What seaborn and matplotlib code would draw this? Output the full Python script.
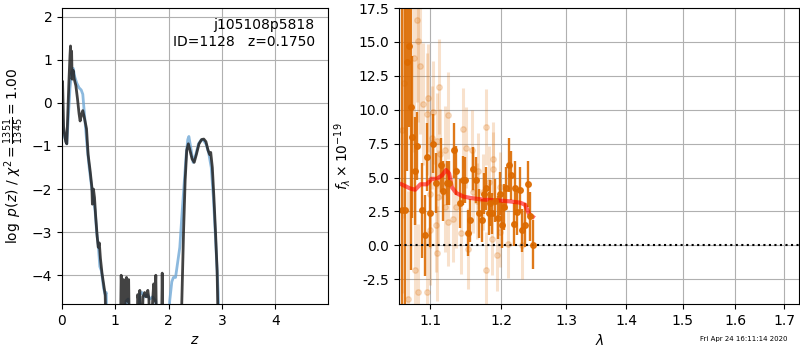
import numpy as np
import pandas as pd
import matplotlib
matplotlib.use('Agg')
import matplotlib.pyplot as plt
import matplotlib.ticker as mticker
import seaborn as sns

# ---------------- p(z) : deux courbes (bleue lissée, noire brute)
z_blue = [0.0, 0.02, 0.05, 0.09, 0.12, 0.15, 0.18, 0.21, 0.24, 0.28, 0.32, 0.36, 0.39, 0.43,
          0.47, 0.51, 0.55, 0.58, 0.62, 0.65, 0.68, 0.71, 0.74, 0.78, 0.81, 0.83, 0.85,
          1.15, 1.2, 1.24, 1.3, 1.42, 1.46, 1.5, 1.55, 1.6, 1.65, 1.7, 1.76, 1.8,
          1.98, 2.02, 2.06, 2.09, 2.13, 2.17, 2.21, 2.25, 2.29, 2.33, 2.36, 2.38, 2.41,
          2.46, 2.51, 2.56, 2.61, 2.65, 2.7, 2.75, 2.8, 2.84, 2.87, 2.9, 2.93, 2.96]
lp_blue = [-0.1, -0.55, -0.8, -0.95, -0.3, 0.35, 0.7, 0.8, 0.6, 0.45, 0.35, 0.3, 0.2, -0.4,
           -1.0, -1.5, -1.9, -2.15, -2.5, -3.0, -3.3, -3.8, -3.9, -4.3, -4.45, -4.4, -6,
           -6, -4.6, -4.55, -6, -6, -4.45, -4.4, -4.5, -4.45, -4.55, -4.5, -4.6, -6,
           -6, -4.6, -4.15, -4.05, -4.05, -3.7, -3.35, -2.6, -1.9, -1.2, -0.85, -0.78, -1.0,
           -1.38, -1.2, -0.95, -0.86, -0.86, -0.95, -1.15, -1.5, -2.2, -2.9, -3.65, -4.4, -6]

z_dark = [0.0, 0.01, 0.02, 0.03, 0.05, 0.07, 0.09, 0.11, 0.13, 0.15, 0.16, 0.17, 0.18, 0.19,
          0.21, 0.23, 0.26, 0.29, 0.32, 0.34, 0.37, 0.39, 0.42, 0.46, 0.49, 0.53, 0.56, 0.57,
          0.59, 0.61, 0.63, 0.66, 0.68, 0.7, 0.72, 0.75, 0.78, 0.81, 0.84,
          1.09, 1.11, 1.13, 1.15, 1.17, 1.19, 1.21, 1.23, 1.25, 1.27, 1.40, 1.42, 1.44, 1.46,
          1.48, 1.52, 1.55, 1.58, 1.61, 1.63, 1.66, 1.70, 1.72, 1.74, 1.76, 1.78, 1.86, 1.88, 1.90,
          2.22, 2.25, 2.28, 2.31, 2.34, 2.37, 2.4, 2.44, 2.48, 2.52, 2.57, 2.62, 2.66, 2.7,
          2.74, 2.77, 2.79, 2.82, 2.85, 2.88, 2.91, 2.94]
lp_dark = [0.2, 0.5, 0.0, -0.55, -0.75, -0.9, -0.95, -0.2, 0.5, 1.1, 1.32, 0.9, 1.2, 0.55,
           0.75, 0.55, 0.4, 0.1, -0.25, -0.42, -0.25, -0.18, -0.35, -0.6, -1.2, -1.6, -1.95, -2.35,
           -2.0, -2.2, -2.6, -3.1, -3.35, -3.25, -3.6, -3.95, -4.2, -4.45, -6,
           -6, -4.0, -4.6, -4.1, -6, -4.15, -4.05, -4.6, -4.1, -6, -6, -4.45, -4.6, -4.35,
           -6, -4.5, -4.4, -4.5, -4.35, -4.55, -6, -4.6, -4.2, -4.6, -4.0, -6, -6, -3.95, -6,
           -6, -4.5, -3.0, -1.8, -1.1, -0.95, -1.1, -1.3, -1.38, -1.2, -0.95, -0.85, -0.84, -0.9,
           -1.1, -1.2, -1.15, -1.5, -2.2, -3.0, -3.9, -6]

# ---------------- spectre : points foncés, points clairs, modèle
lam_dark = [1.062, 1.067, 1.069, 1.072, 1.0746, 1.0755, 1.0799, 1.0829, 1.0888, 1.0932, 1.0955,
            1.100, 1.1045, 1.1081, 1.1146, 1.1181, 1.1237, 1.126, 1.133, 1.1353, 1.1413, 1.145,
            1.1484, 1.153, 1.1555, 1.1593, 1.164, 1.1684, 1.1722, 1.1755, 1.1785, 1.1818, 1.1842,
            1.1876, 1.1916, 1.195, 1.1989, 1.2012, 1.2038, 1.2073, 1.2112, 1.2148, 1.2187, 1.2213,
            1.2238, 1.2277, 1.2314, 1.2353, 1.2399, 1.2429, 1.2475]
flux_dark = [2.6, 2.6, 13.5, 14.7, 10.2, 8.0, 5.5, 7.35, 2.6, 0.73, 6.5,
             2.35, 7.5, 4.6, 5.9, 4.0, 4.6, 4.6, 7.0, 5.5, 3.1, 4.8,
             4.8, 0.9, 1.85, 5.65, 4.8, 2.35, 1.85, 3.8, 4.2, 2.35, 3.1,
             2.35, 3.3, 2.05, 3.8, 1.5, 2.8, 4.2, 5.9, 5.15, 1.55, 4.2,
             2.45, 4.1, 1.1, 1.5, 4.5, 2.15, 0.05]
err_dark = [15, 15, 8, 6, 12, 6, 4, 2.5, 3.5, 3.0, 2.5,
            2.5, 2.2, 2.2, 2.0, 2.2, 1.6, 1.6, 2.0, 1.8, 1.8, 1.8,
            1.7, 1.7, 1.6, 1.6, 1.7, 1.8, 1.6, 1.5, 1.6, 1.6, 1.7,
            1.5, 1.6, 1.6, 1.6, 1.7, 1.7, 1.6, 2.0, 1.8, 1.6, 2.0,
            1.7, 1.7, 1.6, 1.6, 1.7, 1.8, 1.8]

lam_light = [1.062, 1.065, 1.071, 1.078, 1.080, 1.082, 1.0843, 1.0843, 1.0866, 1.091, 1.0955,
             1.0955, 1.097, 1.100, 1.100, 1.1023, 1.1045, 1.108, 1.109, 1.109, 1.111, 1.1127,
             1.1136, 1.120, 1.120, 1.125, 1.125, 1.132, 1.136, 1.142, 1.1458, 1.1494, 1.153,
             1.158, 1.160, 1.165, 1.167, 1.174, 1.1785, 1.1785, 1.182, 1.187, 1.188, 1.189,
             1.1942, 1.199, 1.199, 1.2108, 1.2314]
flux_light = [8.5, 12.0, -3.97, 13.85, -1.84, 16.6, 15.1, -3.43, 13.2, 10.4, 9.7,
              -3.43, 10.85, 1.1, 3.8, 7.95, 9.8, 1.5, 7.7, -0.6, 3.55, 11.7,
              6.75, 7.0, 2.8, 9.6, 1.7, 1.95, 2.8, 0.9, 8.6, 7.2, -0.25,
              7.0, 3.9, 3.3, 5.5, 3.9, 8.7, -1.8, 4.65, 0.5, 6.4, 5.65,
              -0.74, 1.0, 4.3, 0.1, 0.0]
err_light = [12, 10, 8, 7, 6, 6, 6, 5, 5, 4.5, 4.5,
             4.5, 4, 4, 4, 3.8, 3.8, 3.5, 3.5, 3.5, 3.5, 3.5,
             3.3, 3.3, 3.3, 3.2, 3.2, 3.2, 3.0, 3.0, 3.0, 3.0, 3.0,
             3.0, 3.0, 2.8, 2.8, 2.8, 2.8, 2.8, 2.7, 2.7, 2.7, 2.7,
             2.6, 2.6, 2.6, 2.5, 2.5]

lam_model = [1.062, 1.073, 1.080, 1.087, 1.0955, 1.102, 1.109, 1.116, 1.1217, 1.126, 1.1296,
             1.136, 1.1458, 1.155, 1.1686, 1.182, 1.199, 1.211, 1.2283, 1.236, 1.2423, 1.248]
flux_model = [4.5, 4.2, 4.1, 4.5, 4.5, 4.9, 4.9, 5.15, 5.55, 5.3, 4.3,
              3.85, 3.6, 3.5, 3.4, 3.35, 3.3, 3.25, 3.15, 3.0, 2.3, 2.1]

orange = '#dc6a00'

fig = plt.figure(figsize=(8, 3.5), dpi=100)
ax1 = fig.add_axes([0.0775, 0.131, 0.3325, 0.846])
ax2 = fig.add_axes([0.499, 0.131, 0.5, 0.846])

# -------- panneau gauche
sns.lineplot(x=z_blue, y=lp_blue, ax=ax1, sort=False, estimator=None,
             color='#6fa8d6', alpha=0.8, linewidth=2)
sns.lineplot(x=z_dark, y=lp_dark, ax=ax1, sort=False, estimator=None,
             color='#222222', alpha=0.85, linewidth=2)
ax1.set_xlim(0, 4.99)
ax1.set_ylim(-4.67, 2.2)
ax1.set_xticks([0, 1, 2, 3, 4])
ax1.set_yticks([-4, -3, -2, -1, 0, 1, 2])
ax1.grid(True)
ax1.set_xlabel('$z$')
ax1.set_ylabel(r'$\log\ p(z)$ / $\chi^2=\frac{1351}{1345}=1.00$')
ax1.text(0.95, 0.965, 'j105108p5818\nID=1128   z=0.1750', transform=ax1.transAxes,
         ha='right', va='top', fontsize=10)

# -------- panneau droit
ax2.errorbar(lam_light, flux_light, yerr=err_light, fmt='o', color=orange, alpha=0.2,
             markersize=4, elinewidth=2.2, capsize=0, linestyle='none')
ax2.errorbar(lam_dark, flux_dark, yerr=err_dark, fmt='o', color=orange, alpha=0.9,
             markersize=4, elinewidth=1.7, capsize=0, linestyle='none')
sns.lineplot(x=lam_model, y=flux_model, ax=ax2, sort=False, estimator=None,
             color='red', alpha=0.6, linewidth=3)
ax2.axhline(0, color='k', linestyle=':', linewidth=1.5)

ax2.set_xscale('log')
ax2.set_xlim(1.059, 1.731)
ax2.set_ylim(-4.34, 17.5)
ax2.xaxis.set_major_locator(mticker.FixedLocator([1.1, 1.2, 1.3, 1.4, 1.5, 1.6, 1.7]))
ax2.xaxis.set_major_formatter(mticker.FormatStrFormatter('%.1f'))
ax2.xaxis.set_minor_locator(mticker.NullLocator())
ax2.set_yticks([-2.5, 0, 2.5, 5, 7.5, 10, 12.5, 15, 17.5])
ax2.yaxis.set_major_formatter(mticker.FormatStrFormatter('%.1f'))
ax2.grid(True)
ax2.set_xlabel(r'$\lambda$')
ax2.set_ylabel(r'$f_\lambda\times10^{-19}$')

fig.text(0.985, 0.03, 'Fri Apr 24 16:11:14 2020', ha='right', va='center', fontsize=5)

fig.savefig('out.png', dpi=100)
